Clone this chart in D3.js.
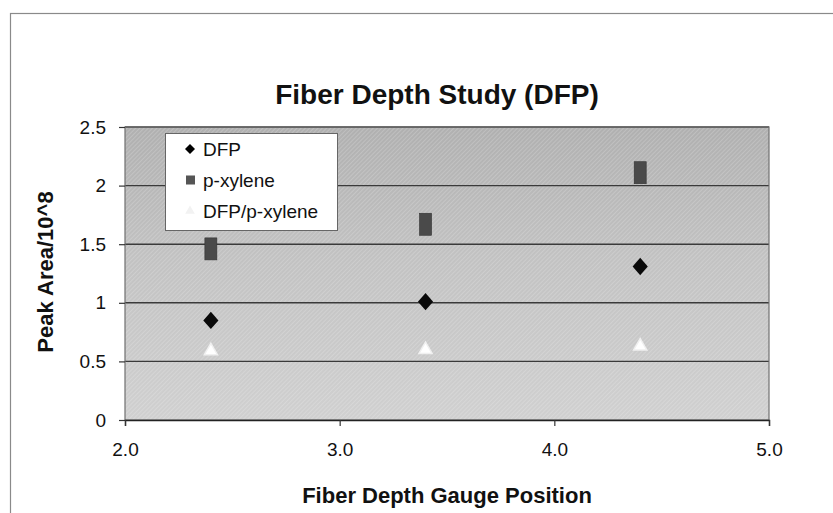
<!DOCTYPE html>
<html><head><meta charset="utf-8">
<script src="https://cdn.jsdelivr.net/npm/d3@7"></script>
<style>body{margin:0;background:#fff;} svg{display:block;font-family:"Liberation Sans",Arial,sans-serif;}</style>
</head><body><svg id="c" width="833" height="513"></svg>
<script>
const xPositions = [2.4, 3.4, 4.4];
const dfp = [0.85, 1.01, 1.31];
const pXylene = [1.46, 1.67, 2.11];
const ratio = [0.59, 0.60, 0.63];
const yTicks = [0, 0.5, 1, 1.5, 2, 2.5];
const xTicks = [2.0, 3.0, 4.0, 5.0];
const seriesNames = ["DFP", "p-xylene", "DFP/p-xylene"];

const svg = d3.select("#c");
const L = 125, R = 769, T = 127, B = 420;
const x = d3.scaleLinear().domain([2, 5]).range([L, R]);
const y = d3.scaleLinear().domain([0, 2.5]).range([B, T]);

// outer border
svg.append("rect").attr("x",10.5).attr("y",13.5).attr("width",840).attr("height",520)
  .attr("fill","#fff").attr("stroke","#8a8a8a").attr("stroke-width",1.2);

const defs = svg.append("defs");
const g1 = defs.append("linearGradient").attr("id","bg").attr("x1",0).attr("y1",0).attr("x2",0).attr("y2",1);
g1.append("stop").attr("offset","0%").attr("stop-color","#b0b0b0");
g1.append("stop").attr("offset","45%").attr("stop-color","#c2c2c2");
g1.append("stop").attr("offset","100%").attr("stop-color","#d0d0d0");
const pat = defs.append("pattern").attr("id","hatch").attr("width",3).attr("height",3)
  .attr("patternUnits","userSpaceOnUse").attr("patternTransform","rotate(45)");
pat.append("rect").attr("width",1).attr("height",3).attr("fill","#fff").attr("opacity",0.18);

svg.append("rect").attr("x",L).attr("y",T).attr("width",R-L).attr("height",B-T).attr("fill","url(#bg)");
svg.append("rect").attr("x",L).attr("y",T).attr("width",R-L).attr("height",B-T).attr("fill","url(#hatch)");

// gridlines
svg.append("g").selectAll("line").data(yTicks.filter(d=>d>0)).join("line")
  .attr("x1",L).attr("x2",R).attr("y1",d=>y(d)).attr("y2",d=>y(d))
  .attr("stroke","#3a3a3a").attr("stroke-width",1.4);
// plot border
svg.append("rect").attr("x",L).attr("y",T).attr("width",R-L).attr("height",B-T)
  .attr("fill","none").attr("stroke","#707070").attr("stroke-width",1.2);

// axes
const yAxis = svg.append("g").attr("transform",`translate(${L},0)`)
  .call(d3.axisLeft(y).tickValues(yTicks).tickSize(6).tickPadding(13).tickFormat(d=>String(d)));
const xAxis = svg.append("g").attr("transform",`translate(0,${B})`)
  .call(d3.axisBottom(x).tickValues(xTicks).tickSize(6).tickPadding(17).tickFormat(d3.format(".1f")));
[yAxis,xAxis].forEach(a=>{
  a.select(".domain").attr("stroke","#222").attr("stroke-width",1.4);
  a.selectAll(".tick line").attr("stroke","#333").attr("stroke-width",1.2);
  a.selectAll("text").attr("font-size",19).attr("fill","#111").attr("font-family","Liberation Sans, Arial, sans-serif");
});
yAxis.select(".domain").remove();

// markers
const diamond = d3.symbol().type(d3.symbolSquare).size(115);
const tri = d3.symbol().type(d3.symbolTriangle).size(75);

svg.append("g").selectAll("path").data(xPositions.map((d,i)=>[d,ratio[i]])).join("path")
  .attr("d",tri).attr("transform",d=>`translate(${x(d[0])},${y(d[1])})`)
  .attr("fill","#fff").attr("stroke","#f0f0f0").attr("stroke-width",1.5);
svg.append("g").selectAll("rect").data(xPositions.map((d,i)=>[d,pXylene[i]])).join("rect")
  .attr("x",d=>x(d[0])-6).attr("y",d=>y(d[1])-11).attr("width",12).attr("height",22)
  .attr("fill","#4a4a4a").attr("stroke","#333").attr("stroke-width",0.6);
svg.append("g").selectAll("path").data(xPositions.map((d,i)=>[d,dfp[i]])).join("path")
  .attr("d",diamond).attr("transform",d=>`translate(${x(d[0])},${y(d[1])}) scale(1,1.15) rotate(45)`)
  .attr("fill","#0a0a0a");

// legend
const lg = svg.append("g");
lg.append("rect").attr("x",165.5).attr("y",133.5).attr("width",172).attr("height",97)
  .attr("fill","#fff").attr("stroke","#666").attr("stroke-width",1);
const ly = [149, 180, 211];
lg.append("path").attr("d",d3.symbol().type(d3.symbolSquare).size(50))
  .attr("transform",`translate(190,${ly[0]}) rotate(45)`).attr("fill","#000");
lg.append("rect").attr("x",186).attr("y",ly[1]-4.5).attr("width",9).attr("height",9).attr("fill","#555");
lg.append("path").attr("d",d3.symbol().type(d3.symbolTriangle).size(40))
  .attr("transform",`translate(190,${ly[2]})`).attr("fill","#f2f2f2");
lg.selectAll("text").data(seriesNames).join("text")
  .attr("x",203).attr("y",(d,i)=>ly[i]+7).attr("font-size",19).attr("fill","#111").text(d=>d);

// titles
svg.append("text").attr("x",437).attr("y",104).attr("text-anchor","middle")
  .attr("font-size",28).attr("font-weight","bold").attr("fill","#111").text("Fiber Depth Study (DFP)");
svg.append("text").attr("x",447).attr("y",503).attr("text-anchor","middle")
  .attr("font-size",22).attr("font-weight","bold").attr("fill","#111").text("Fiber Depth Gauge Position");
svg.append("text").attr("transform","translate(53,272) rotate(-90)").attr("text-anchor","middle")
  .attr("font-size",22).attr("font-weight","bold").attr("fill","#111").text("Peak Area/10^8");
</script></body></html>
